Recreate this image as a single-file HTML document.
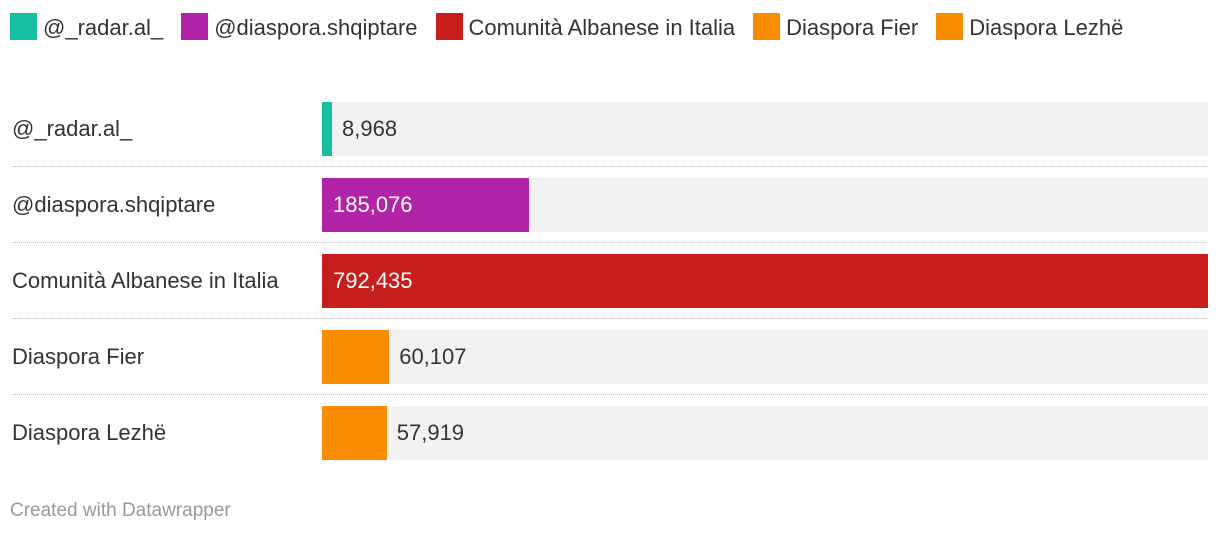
<!DOCTYPE html>
<html><head><meta charset="utf-8"><style>
body{margin:0;width:1220px;height:538px;background:#fff;font-family:"Liberation Sans",sans-serif;color:#333;position:relative;overflow:hidden}
.leg{position:absolute;left:10px;top:10px;width:1150px;font-size:22px;line-height:36px;color:#333}
.li{display:inline-block;margin-right:18px;white-space:nowrap}
.sw{display:inline-block;width:27px;height:27px;vertical-align:-5px;margin-right:6px}
.row{position:absolute;left:0;width:1208px;height:54px}
.lab{position:absolute;left:12px;top:0;line-height:54px;font-size:22px;color:#333}
.bg{position:absolute;left:322px;top:0;width:886px;height:54px;background:#f2f2f2}
.bar{position:absolute;left:322px;top:0;height:54px}
.val{position:absolute;top:0;line-height:54px;font-size:22px}
.sep{position:absolute;left:12px;width:1196px;border-top:1px dotted #bbb}
.foot{position:absolute;left:10px;top:500px;font-size:19px;color:#999}
</style></head><body>
<div class="leg" id="legend"></div>
<div id="chart"></div>
<div class="foot">Created with Datawrapper</div>
<script>
const categories=["@_radar.al_","@diaspora.shqiptare","Comunità Albanese in Italia","Diaspora Fier","Diaspora Lezhë"];
const values=[8968,185076,792435,60107,57919];
const colors=["#15bfa0","#b223a8","#c71e1d","#fa8c00","#fa8c00"];
const maxV=792435, plotW=886;
function x(v){return v/maxV*plotW;}
const leg=document.getElementById('legend');
categories.forEach((c,i)=>{
  const s=document.createElement('span');s.className='li';
  
  
  s.innerHTML='<span class="sw" style="background:'+colors[i]+'"></span>'+c;
  leg.appendChild(s);
});
const ch=document.getElementById('chart');
categories.forEach((c,i)=>{
  const top=102+i*76;
  const r=document.createElement('div');r.className='row';r.style.top=top+'px';
  
  
  const w=x(values[i]);
  const txt=values[i].toLocaleString('en-US');
  const inside=w>150;
  r.innerHTML='<div class="lab">'+c+'</div>'+
   '<div class="bg"></div>'+
   '<div class="bar" style="width:'+w+'px;background:'+colors[i]+'"></div>'+
   '<div class="val" style="left:'+(inside?333:322+w+10)+'px;color:'+(inside?'#fff':'#333')+'">'+txt+'</div>';
  ch.appendChild(r);
  if(i<categories.length-1){
    const s=document.createElement('div');s.className='sep';s.style.top=(top+64)+'px';
    
    
    ch.appendChild(s);
  }
});
</script>
</body></html>
